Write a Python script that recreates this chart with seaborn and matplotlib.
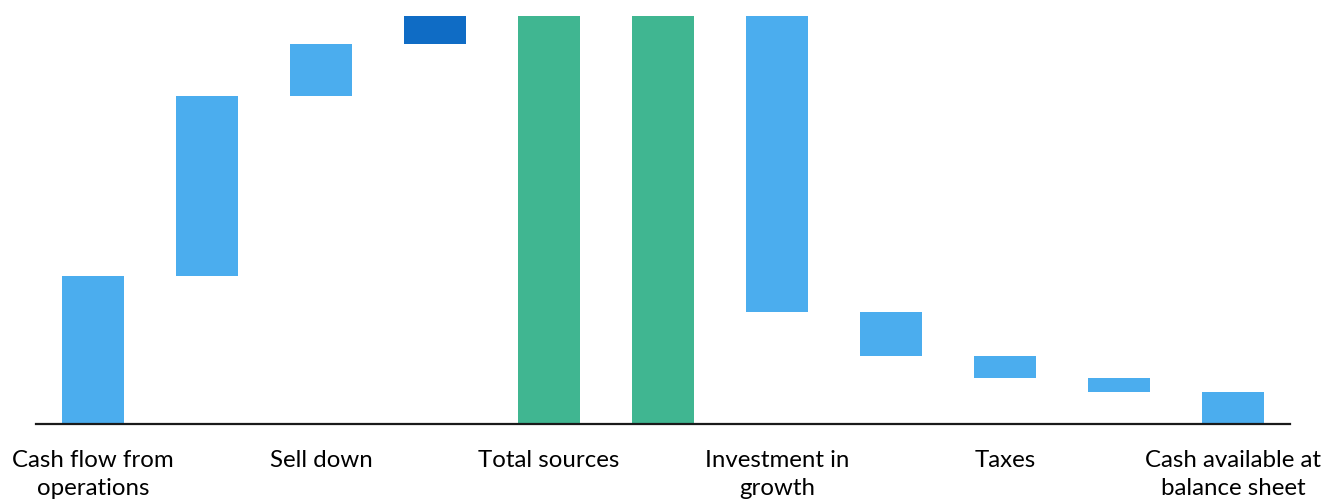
import numpy as np
import pandas as pd
import matplotlib
matplotlib.use("Agg")
import matplotlib.pyplot as plt
import seaborn as sns

# waterfall data
bar_ids = [f"b{i}" for i in range(11)]
bar_kind = ["step", "step", "step", "step", "total", "total",
            "step", "step", "step", "step", "total"]
bar_values = [3.7, 4.5, 1.3, 0.7, 10.2, 10.2, -7.4, -1.1, -0.55, -0.35, 0.8]
tick_labels = ["Cash flow from\noperations", "", "Sell down", "", "Total sources", "",
               "Investment in\ngrowth", "", "Taxes", "", "Cash available at\nbalance sheet"]
bar_colors = ["#4BADEE", "#4BADEE", "#4BADEE", "#0F6CC5", "#40B691", "#40B691",
              "#4BADEE", "#4BADEE", "#4BADEE", "#4BADEE", "#4BADEE"]

# running totals -> bottoms and heights
bottoms, heights = [], []
running = 0.0
for kind, v in zip(bar_kind, bar_values):
    if kind == "total":
        bottoms.append(0.0)
        heights.append(v)
        running = v
    else:
        bottoms.append(min(running, running + v))
        heights.append(abs(v))
        running += v

df = pd.DataFrame({"bar": bar_ids, "height": heights, "bottom": bottoms})

sns.set_style("white")
plt.rcParams["font.family"] = ["Lato", "DejaVu Sans"]

fig = plt.figure(figsize=(13.27, 5.01), dpi=100)
ax = fig.add_axes([36 / 1327, 77 / 501, 1254 / 1327, 408 / 501])

sns.barplot(data=df, x="bar", y="height", hue="bar", palette=bar_colors,
            legend=False, width=0.55, saturation=1, linewidth=0, ax=ax)

# lift each bar onto its running-total base
for patch, b in zip(ax.patches, df["bottom"]):
    patch.set_y(b)

ax.set_xlim(-0.5, 10.5)
ax.set_ylim(0, max(heights))
ax.set_xlabel("")
ax.set_ylabel("")
ax.set_yticks([])
ax.set_xticks(range(len(bar_ids)))
ax.set_xticklabels(tick_labels, fontsize=17.3, color="#000000", linespacing=1.4)
ax.tick_params(axis="x", length=0, pad=19)

for side in ["left", "top", "right"]:
    ax.spines[side].set_visible(False)
ax.spines["bottom"].set_color("#1a1a1a")
ax.spines["bottom"].set_linewidth(1.6)

fig.savefig("out.png", dpi=100)
